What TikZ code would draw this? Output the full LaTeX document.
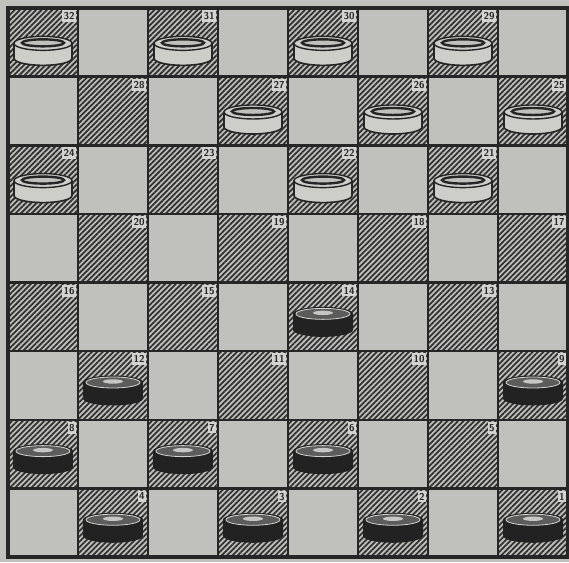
\documentclass[tikz,border=0pt]{standalone}
\usetikzlibrary{patterns.meta}
\definecolor{paper}{RGB}{192,192,189}
\definecolor{ink}{RGB}{38,38,38}

\begin{document}
\begin{tikzpicture}[x=70pt, y=68.625pt,
  sq/.style={minimum width=70pt, minimum height=68.625pt, inner sep=0pt, outer sep=0pt,
    pattern={Lines[angle=45,distance=3.8pt,line width=1.8pt]}, pattern color=ink!95},
  num/.style={fill=paper!70!white, inner xsep=1.6pt, inner ysep=2.2pt, anchor=north east,
    font=\sffamily\bfseries\fontsize{10}{10}\selectfont, text=ink},
  whitepc/.pic={
    \draw[ink, line width=1.6pt, fill=paper!80!white] (-29pt,-1pt) -- (-29pt,-16pt)
      arc[start angle=180, end angle=360, x radius=29pt, y radius=7pt] -- (29pt,-1pt);
    \draw[ink, line width=1.4pt, fill=paper!80!white] (0,-1pt) ellipse[x radius=29pt, y radius=7pt];
    \draw[ink, line width=2.4pt, fill=paper] (0,-0.5pt) ellipse[x radius=21pt, y radius=3.5pt];
  },
  blackpc/.pic={
    \fill[ink!90!black] (-30pt,2pt) -- (-30pt,-14pt)
      arc[start angle=180, end angle=360, x radius=30pt, y radius=7pt] -- (30pt,2pt)
      arc[start angle=0, end angle=180, x radius=30pt, y radius=7pt] -- cycle;
    \draw[paper!70!white, line width=0.8pt, fill=ink!75] (0,2pt) ellipse[x radius=27pt, y radius=5.5pt];
    \fill[paper!90!white] (0,3pt) ellipse[x radius=10pt, y radius=2.2pt];
  }]
  \fill[paper] (-0.114,-0.073) rectangle (8.014,8.117);
  \useasboundingbox (-0.114,-0.073) rectangle (8.014,8.117);
  \foreach \r in {0,...,7}
    \foreach \k in {0,...,3}{
      \pgfmathtruncatemacro\col{7-2*\k-mod(\r,2)}
      \pgfmathtruncatemacro\num{4*\r+\k+1}
      \node[sq] (s\num) at (\col+0.5,\r+0.5) {};
    }
  \draw[ink, line width=2.5pt, step={(1,1)}] (0,0) grid (8,8);
  \draw[ink, line width=4pt] (0,0) rectangle (8,8);
  \foreach \n in {1,...,32}
    \node[num] (n\n) at ([shift={(-1.5pt,-2pt)}]s\n.north east) {\n};
  \foreach \n in {21,22,24,25,26,27,29,30,31,32}
    \pic at (s\n.center) {whitepc};
  \foreach \n in {1,2,3,4,6,7,8,9,12,14}
    \pic at ([yshift=1pt]s\n.center) {blackpc};
\end{tikzpicture}
\end{document}
